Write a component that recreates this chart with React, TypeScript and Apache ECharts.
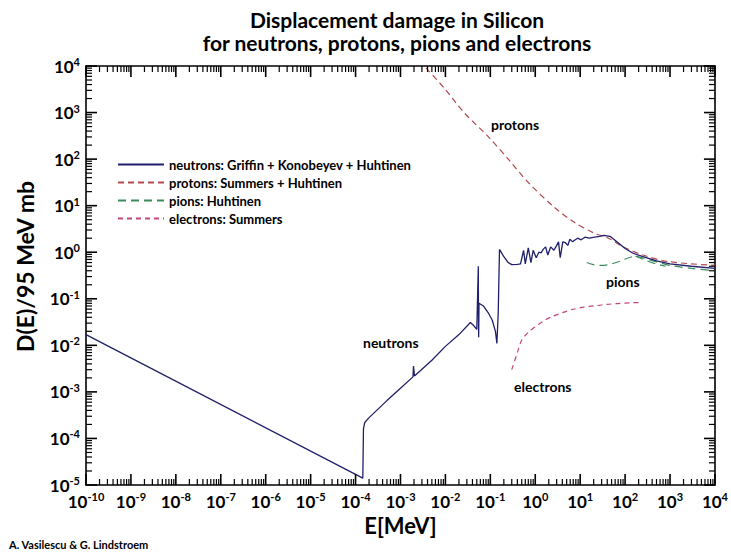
import React, { useEffect, useRef } from "react";
import * as echarts from "echarts";

const FONT = "Lato";

// Neutrons: [E (MeV), D(E)/95 MeV mb]
const neutronE = [
  1e-10, 1.45e-4, 1.5e-4, 1.6e-4, 2.0e-4, 5e-4, 1e-3, 1.9e-3, 1.95e-3, 2.05e-3, 5e-3, 1e-2, 0.02, 0.036,
  0.042, 0.05, 0.054, 0.0545, 0.055, 0.056, 0.07, 0.09, 0.11, 0.13, 0.14, 0.15, 0.16, 0.2, 0.25, 0.3,
  0.4, 0.47, 0.55, 0.6, 0.7, 0.8, 0.9, 1.05, 1.2, 1.35, 1.5, 1.7, 1.9, 2.2, 2.6, 3.0, 3.3, 3.6, 4.1,
  4.7, 5.3, 5.9, 6.8, 7.5, 8.8, 10.5, 12.8, 16, 21, 27, 34, 46, 70, 100, 150, 250, 500, 1000, 3000, 10000,
];
const neutronD = [
  0.017, 1.4e-5, 1.6e-4, 2.2e-4, 2.8e-4, 6.5e-4, 1.2e-3, 2.1e-3, 3.6e-3, 2.2e-3, 4.8e-3, 9.5e-3, 0.017, 0.031,
  0.027, 0.022, 0.5, 0.05, 0.015, 0.08, 0.07, 0.05, 0.035, 0.02, 0.011, 0.05, 1.15, 0.8, 0.6, 0.54,
  0.55, 0.56, 1.1, 0.56, 1.24, 0.6, 1.1, 0.76, 1.0, 0.97, 1.15, 1.3, 0.87, 1.3, 1.1, 1.4, 1.67, 0.76, 1.67,
  1.6, 1.4, 1.9, 1.67, 1.8, 2.0, 1.85, 2.1, 2.0, 2.1, 2.2, 2.3, 2.2, 1.6, 1.2, 0.95, 0.8, 0.65, 0.56, 0.5, 0.45,
];

const protonE = [3.7e-3, 9.3e-3, 0.026, 0.091, 0.26, 0.71, 2.6, 7.1, 20, 43, 91, 250, 910, 10000];
const protonD = [9100, 3400, 1000, 300, 96, 31, 9.4, 4.5, 2.6, 2.0, 1.3, 0.87, 0.63, 0.52];

const pionE = [14, 20, 30, 50, 80, 120, 170, 250, 500, 1000, 3000, 10000];
const pionD = [0.6, 0.54, 0.52, 0.56, 0.65, 0.76, 0.82, 0.75, 0.62, 0.52, 0.45, 0.4];
const pion2E = [170, 300, 500, 800];
const pion2D = [0.82, 0.66, 0.56, 0.5];

const electronE = [0.3, 0.4, 0.5, 0.7, 1.0, 1.5, 2.3, 4, 6.3, 12, 22, 40, 70, 130, 220];
const electronD = [3e-3, 7e-3, 0.013, 0.019, 0.025, 0.033, 0.041, 0.05, 0.058, 0.066, 0.071, 0.076, 0.079, 0.082, 0.083];

const seriesNames = [
  "neutrons: Griffin + Konobeyev + Huhtinen",
  "protons: Summers + Huhtinen",
  "pions: Huhtinen",
  "electrons: Summers",
];

// axis ranges (decades)
const X_LO = -10;
const X_HI = 4;
const Y_LO = -5;
const Y_HI = 4;
const X_MIN = Math.pow(10, X_LO);
const X_MAX = Math.pow(10, X_HI);
const Y_MIN = Math.pow(10, Y_LO);
const Y_MAX = Math.pow(10, Y_HI);

const zip = (a: number[], b: number[]) => a.map((v, i) => [v, b[i]]);

// Log-axis tick positions (decoration of the frame): decades are major, 2..9 are minor.
function tickValues(lo: number, hi: number) {
  const out: number[][] = [];
  for (let e = lo; e <= hi; e++) {
    out.push([Math.pow(10, e), 1]);
    if (e < hi) for (let k = 2; k <= 9; k++) out.push([k * Math.pow(10, e), 0]);
  }
  return out;
}

const supLabel = (v: number) => {
  const e = Math.round(Math.log10(v));
  return `{b|10}{s|${e}}`;
};

const richLabel = {
  b: { fontSize: 17, fontWeight: "bold", fontFamily: FONT, color: "#000" },
  s: { fontSize: 11, fontWeight: "bold", fontFamily: FONT, color: "#000", padding: [0, 0, 9, 0] },
};

const textStyle = (text: string, size: number) => ({
  text,
  fontFamily: FONT,
  fontSize: size,
  fontWeight: "bold",
  fill: "#000",
});

const axisCommon = {
  axisLine: { show: true, onZero: false, lineStyle: { color: "#000", width: 1.6 } },
  axisTick: { show: false },
  splitLine: { show: false },
};

const MAJ_LEN = 11;
const MIN_LEN = 6;

export default function App() {
  const ref = useRef<HTMLDivElement>(null);
  useEffect(() => {
    if (!ref.current) return;
    const chart = echarts.init(ref.current, undefined, { renderer: "svg" });

    // x-axis ticks: drawn as thin filled rects at the bottom and top edges
    const xTickRender = (_p: any, api: any) => {
      const v = api.value(0);
      const major = api.value(1) === 1;
      const len = major ? MAJ_LEN : MIN_LEN;
      const w = major ? 1.6 : 1.2;
      const b = api.coord([v, Y_MIN]);
      const t = api.coord([v, Y_MAX]);
      return {
        type: "group",
        children: [
          { type: "rect", shape: { x: b[0] - w / 2, y: b[1] - len, width: w, height: len }, style: { fill: "#000" } },
          { type: "rect", shape: { x: t[0] - w / 2, y: t[1], width: w, height: len }, style: { fill: "#000" } },
        ],
      };
    };
    const yTickRender = (_p: any, api: any) => {
      const v = api.value(0);
      const major = api.value(1) === 1;
      const len = major ? MAJ_LEN : MIN_LEN;
      const w = major ? 1.6 : 1.2;
      const l = api.coord([X_MIN, v]);
      const r = api.coord([X_MAX, v]);
      return {
        type: "group",
        children: [
          { type: "rect", shape: { x: l[0], y: l[1] - w / 2, width: len, height: w }, style: { fill: "#000" } },
          { type: "rect", shape: { x: r[0] - len, y: r[1] - w / 2, width: len, height: w }, style: { fill: "#000" } },
        ],
      };
    };

    const option: any = {
      animation: false,
      backgroundColor: "#fff",
      title: {
        text: "Displacement damage in Silicon\nfor neutrons, protons, pions and electrons",
        left: 392,
        textAlign: "center",
        top: 3,
        textStyle: { fontFamily: FONT, fontSize: 21, fontWeight: "bold", lineHeight: 23, color: "#000" },
      },
      legend: {
        data: seriesNames,
        orient: "vertical",
        left: 112,
        top: 153,
        itemWidth: 46,
        itemHeight: 10,
        itemGap: 5,
        itemStyle: { opacity: 0 },
        textStyle: { fontFamily: FONT, fontSize: 13, fontWeight: "bold", color: "#000" },
        selectedMode: false,
      },
      grid: { left: 86, right: 14, top: 66, bottom: 69 },
      xAxis: [
        {
          type: "log",
          min: X_MIN,
          max: X_MAX,
          interval: 1,
          position: "bottom",
          name: "E[MeV]",
          nameLocation: "middle",
          nameGap: 28,
          nameTextStyle: { fontFamily: FONT, fontSize: 22, fontWeight: "bold", color: "#000" },
          ...axisCommon,
          axisLabel: { show: true, formatter: supLabel, rich: richLabel, margin: 6, interval: 0, hideOverlap: false, showMinLabel: true, showMaxLabel: true },
        },
        {
          type: "log",
          min: X_MIN,
          max: X_MAX,
          interval: 1,
          position: "top",
          ...axisCommon,
          axisLabel: { show: false },
        },
      ],
      yAxis: [
        {
          type: "log",
          min: Y_MIN,
          max: Y_MAX,
          interval: 1,
          position: "left",
          name: "D(E)/95 MeV mb",
          nameLocation: "middle",
          nameRotate: 90,
          nameGap: 50,
          nameTextStyle: { fontFamily: FONT, fontSize: 23, fontWeight: "bold", color: "#000", padding: [0, 0, 0, 18] },
          ...axisCommon,
          axisLabel: { show: true, formatter: supLabel, rich: richLabel, margin: 6, interval: 0, showMinLabel: true, showMaxLabel: true },
        },
        {
          type: "log",
          min: Y_MIN,
          max: Y_MAX,
          interval: 1,
          position: "right",
          ...axisCommon,
          axisLabel: { show: false },
        },
      ],
      series: [
        {
          name: seriesNames[0],
          type: "line",
          data: zip(neutronE, neutronD),
          symbol: "none",
          lineStyle: { color: "#1f1f6b", width: 1.3 },
          itemStyle: { color: "#1f1f6b" },
          z: 5,
        },
        {
          name: seriesNames[1],
          type: "line",
          data: zip(protonE, protonD),
          symbol: "none",
          smooth: 0.3,
          lineStyle: { color: "#b4484c", width: 1.2, type: [6, 4] },
          itemStyle: { color: "#b4484c" },
          z: 4,
        },
        {
          name: seriesNames[2],
          type: "line",
          data: zip(pionE, pionD),
          symbol: "none",
          smooth: 0.3,
          lineStyle: { color: "#3b8a5c", width: 1.2, type: [8, 5] },
          itemStyle: { color: "#3b8a5c" },
          z: 3,
        },
        {
          name: "pions2",
          type: "line",
          data: zip(pion2E, pion2D),
          symbol: "none",
          smooth: 0.3,
          lineStyle: { color: "#3b8a5c", width: 1.2, type: [8, 5] },
          z: 3,
        },
        {
          name: seriesNames[3],
          type: "line",
          data: zip(electronE, electronD),
          symbol: "none",
          smooth: 0.3,
          lineStyle: { color: "#c4457a", width: 1.2, type: [5, 4] },
          itemStyle: { color: "#c4457a" },
          z: 3,
        },
        {
          name: "xTicks",
          type: "custom",
          silent: true,
          clip: false,
          encode: { x: 0 },
          data: tickValues(X_LO, X_HI),
          renderItem: xTickRender,
          z: 10,
        },
        {
          name: "yTicks",
          type: "custom",
          silent: true,
          clip: false,
          encode: { y: 0 },
          data: tickValues(Y_LO, Y_HI),
          renderItem: yTickRender,
          z: 10,
        },
      ],
      graphic: [
        { type: "text", left: 491, top: 117, style: textStyle("protons", 14) },
        { type: "text", left: 606, top: 274, style: textStyle("pions", 14) },
        { type: "text", left: 363, top: 335, style: textStyle("neutrons", 14) },
        { type: "text", left: 514, top: 379, style: textStyle("electrons", 14) },
        { type: "text", left: 9, top: 539, style: textStyle("A. Vasilescu & G. Lindstroem", 11) },
      ],
    };
    chart.setOption(option);
    return () => chart.dispose();
  }, []);
  return <div ref={ref} style={{ position: "fixed", left: 0, top: 0, width: 731, height: 554 }} />;
}
